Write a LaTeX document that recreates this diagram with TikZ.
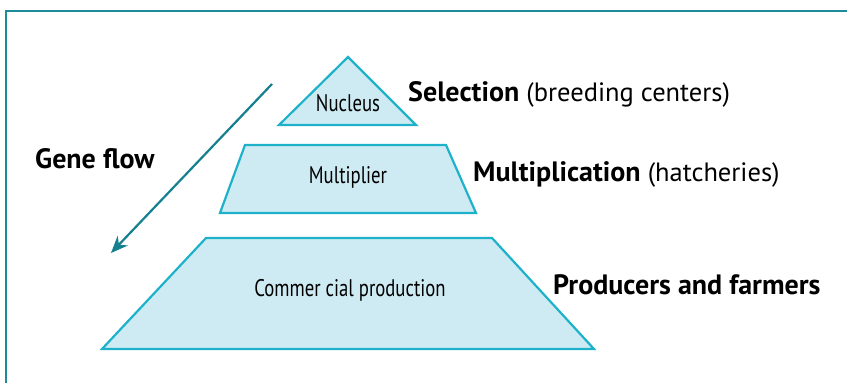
\documentclass[tikz,border=0pt]{standalone}
\usepackage{fontspec}
\setmainfont{PT Sans}
\usetikzlibrary{arrows.meta}
\definecolor{frameteal}{HTML}{1A8C9A}
\definecolor{arrowteal}{HTML}{15808F}
\definecolor{tierfill}{HTML}{CEEBF3}
\definecolor{tierline}{HTML}{1DB2CA}
\newcommand{\lvlname}[1]{{\fontsize{28}{32}\selectfont\bfseries #1}}
\tikzset{
  tier/.style={draw=tierline, fill=tierfill, line width=2.2pt, line join=miter},
  tiertext/.style={font=\fontsize{24}{28}\selectfont, inner sep=0pt, xscale=0.78},
  sidelabel/.style={font=\fontsize{26.5}{32}\selectfont, anchor=west, inner sep=0pt},
}
\begin{document}
\begin{tikzpicture}[x=1pt,y=-1pt]
\useasboundingbox (0,0) rectangle (847,383);
% outer frame (open to the right and bottom)
\draw[frameteal, line width=2.6pt] (6,384) -- (6,11) -- (848,11);

% pyramid tiers
\draw[tier] (279,125) -- (348,57) -- (416,125) -- cycle;
\draw[tier] (220,213) -- (245,145) -- (446,145) -- (476,213) -- cycle;
\draw[tier] (102,349) -- (206,238) -- (492,238) -- (594,349) -- cycle;

\node[tiertext] (nuc) at (348,103) {Nucleus};
\node[tiertext] (mul) at (348,177) {Multiplier};
\node[tiertext] (com) at (350,290) {Commer cial production};

% level labels
\node[sidelabel] (sel) at (408,94) {\lvlname{Selection} (breeding centers)};
\node[sidelabel] (mlt) at (473,174) {\lvlname{Multiplication} (hatcheries)};
\node[sidelabel] (prd) at (553,285) {\lvlname{Producers and farmers}};

% gene flow
\node[sidelabel] (gf) at (35,159) {\lvlname{Gene flow}};
\coordinate (gfstart) at (272,84);
\coordinate (gfend) at (111,253);
\draw[arrowteal, line width=2.2pt, -{Stealth[length=17pt,width=14pt]}] (gfstart) -- (gfend);
\end{tikzpicture}
\end{document}
